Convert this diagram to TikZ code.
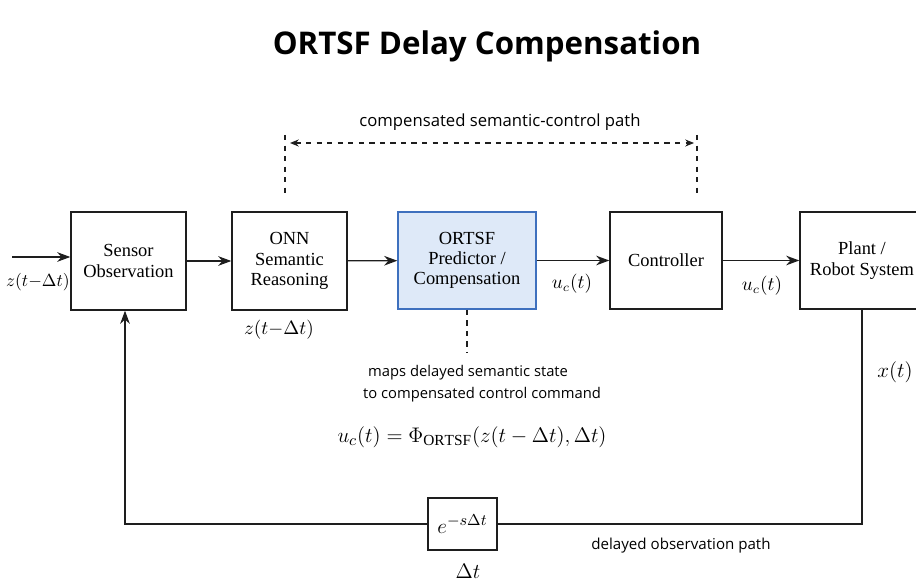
\documentclass[tikz,border=0pt]{standalone}
\usepackage{fontspec}
\setmainfont{Liberation Serif}
\newfontfamily\labelfont{Open Sans}
\usepackage{tikz}
\usetikzlibrary{arrows.meta, positioning, calc}
\definecolor{ortsfblue}{RGB}{222,233,248}
\definecolor{ortsfedge}{RGB}{62,112,190}
\definecolor{inkgray}{RGB}{30,30,30}

\begin{document}
\begin{tikzpicture}[x=0.02cm, y=-0.02cm, >={Stealth[length=7.5pt,width=5.5pt]},
    block/.style={draw=inkgray, line width=0.8pt, fill=white, align=center,
      minimum height=1.96cm, inner sep=2pt, font=\fontsize{10.5}{11.5}\selectfont},
    sig/.style={font=\fontsize{10.5}{12}\selectfont},
    note/.style={font=\labelfont\fontsize{9.5}{12}\selectfont, align=center},
    wire/.style={line width=0.75pt, draw=inkgray}]
  \useasboundingbox (0,0) rectangle (916,581);
  % title
  \node[font=\labelfont\bfseries\fontsize{17.8}{21}\selectfont] (title) at (487,46) {ORTSF Delay Compensation};
  % forward chain
  \node[block, minimum width=2.3cm] (sensor) at (128.5,261) {Sensor\\Observation};
  \node[block, minimum width=2.3cm] (onn) at (289.5,261) {ONN\\Semantic\\Reasoning};
  \node[block, minimum width=2.76cm, minimum height=1.94cm, fill=ortsfblue, draw=ortsfedge] (ortsf) at (467,260.5)
    {ORTSF\\Predictor /\\Compensation};
  \node[block, minimum width=2.24cm, minimum height=1.94cm] (ctrl) at (666,260.5) {Controller};
  \node[block, minimum width=2.48cm, minimum height=1.94cm] (plant) at (862,260.5) {Plant /\\Robot System};
  \coordinate (in) at (12,257);
  \draw[wire, ->] (in) -- (sensor.west |- in);
  \foreach \a/\b in {sensor/onn, onn/ortsf, ortsf/ctrl, ctrl/plant}
    \draw[wire, ->] (\a) -- (\b);
  % signal labels
  \node[sig, font=\fontsize{9.8}{12}\selectfont] (zin) at (38,282) {$z(t{-}\Delta t)$};
  \node[sig] (zonn) at (279,330) {$z(t{-}\Delta t)$};
  \node[sig] (uc1) at (572,284) {$u_c(t)$};
  \node[sig] (uc2) at (762,286) {$u_c(t)$};
  \node[sig, font=\fontsize{11.5}{13}\selectfont] (xt) at (895,372) {$x(t)$};
  % delayed feedback
  \node[draw=inkgray, line width=0.8pt, fill=white, minimum width=1.38cm, minimum height=1.04cm,
    font=\fontsize{12.5}{14}\selectfont] (delay) at (462.5,524) {$e^{-s\Delta t}$};
  \draw[wire] (plant.south) |- (delay.east);
  \draw[wire, ->] (delay.west) -| (sensor.south -| 125,0);
  \node[font=\fontsize{13}{15}\selectfont] (dt) at (468,571) {$\Delta t$};
  \node[note, font=\labelfont\fontsize{8.6}{12}\selectfont] (fbnote) at (681,546) {delayed observation path};
  % compensated path marker
  \coordinate (pl) at (285,135);
  \coordinate (plb) at (285,195);
  \coordinate (pr) at (697,135);
  \coordinate (prb) at (697,195);
  \draw[wire, dashed, line width=0.6pt] (pl) -- (plb);
  \draw[wire, dashed, line width=0.6pt] (pr) -- (prb);
  \coordinate (al) at (290,143);
  \coordinate (ar) at (694,143);
  \draw[wire, dashed, line width=0.6pt, <->, >={Stealth[length=5pt,width=4pt]}] (al) -- (ar);
  \node[note] (pathnote) at (500,122) {compensated semantic-control path};
  % mapping note
  \coordinate (mapend) at (467,352);
  \draw[wire, dashed, line width=0.6pt] (ortsf.south) -- (mapend);
  \node[note, align=left, anchor=west, font=\labelfont\fontsize{8.4}{12.5}\selectfont] (mapnote) at (357,384)
    {\hspace{0.1cm}maps delayed semantic state\\to compensated control command};
  \node[font=\fontsize{12.5}{15}\selectfont] (eq) at (472,437)
    {$u_c(t) = \Phi_{\mathrm{ORTSF}}(z(t-\Delta t),\Delta t)$};
\end{tikzpicture}
\end{document}
